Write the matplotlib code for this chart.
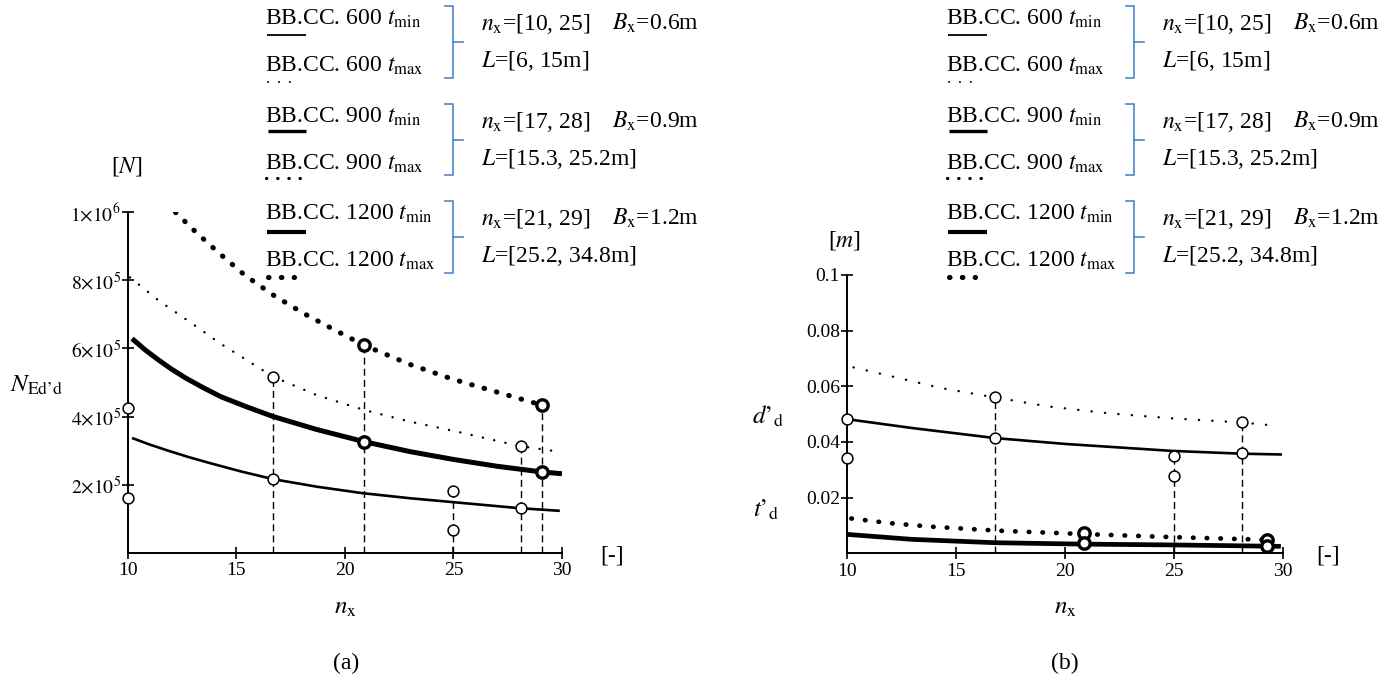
import numpy as np
import matplotlib
matplotlib.use('Agg')
import matplotlib.pyplot as plt
from matplotlib.lines import Line2D

plt.rcParams['font.family'] = 'Liberation Serif'
plt.rcParams['mathtext.fontset'] = 'stix'

W, H = 1395, 682   # output size in pixels

# ---------------- panel (a) : N_Ed,d [N] versus n_x ----------------
a_x_600_tmin = [10.2, 11.0, 11.8, 12.8, 13.8, 15.2, 16.7, 18.7, 20.8, 23.0, 24.9, 28.0, 29.9]
a_y_600_tmin = [337e3, 318e3, 301e3, 281e3, 263e3, 239e3, 216e3, 194e3, 175e3, 160e3, 149e3, 131e3, 123e3]

a_x_600_tmax = [10.1, 11.4, 12.9, 14.3, 16.7, 18.7, 20.9, 23.0, 25.0, 28.0, 29.6]
a_y_600_tmax = [809e3, 742e3, 676e3, 613e3, 517e3, 463e3, 419e3, 385e3, 358e3, 314e3, 299e3]

a_x_1200_tmin = [10.2, 10.8, 11.4, 12.0, 12.7, 13.5, 14.3, 15.5, 16.7, 18.7, 20.9, 23.0, 25.0, 27.0, 29.1, 30.0]
a_y_1200_tmin = [629e3, 596e3, 567e3, 540e3, 512e3, 484e3, 458e3, 428e3, 400e3, 362e3, 326e3, 297e3, 274e3, 254e3, 237e3, 232e3]

a_x_1200_tmax = [12.2, 13.2, 14.3, 15.4, 16.7, 18.1, 19.6, 20.9, 23.0, 25.0, 27.0, 29.1, 29.6]
a_y_1200_tmax = [1000e3, 938e3, 875e3, 815e3, 757e3, 703e3, 652e3, 609e3, 553e3, 509e3, 472e3, 433e3, 428e3]

a_open_x = [10, 10, 16.7, 16.7, 25.0, 25.0, 28.1, 28.1]
a_open_y = [425e3, 161e3, 517e3, 216e3, 182e3, 68e3, 314e3, 131e3]
a_bold_x = [20.9, 20.9, 29.1, 29.1]
a_bold_y = [609e3, 326e3, 433e3, 237e3]
a_drop_x = [16.7, 20.9, 25.0, 28.1, 29.1]
a_drop_top = [517e3, 609e3, 182e3, 314e3, 433e3]

a_yticks = [2e5, 4e5, 6e5, 8e5, 1e6]
a_ylabels = [r'$2{\times}10^{5}$', r'$4{\times}10^{5}$', r'$6{\times}10^{5}$',
             r'$8{\times}10^{5}$', r'$1{\times}10^{6}$']

# ---------------- panel (b) : d'_d, t'_d [m] versus n_x ----------------
b_x_d_tmax = [10.3, 12.2, 14.3, 16.8, 19.2, 22.0, 24.9, 28.1, 29.6]
b_y_d_tmax = [0.0668, 0.0633, 0.0594, 0.0560, 0.0528, 0.0503, 0.0485, 0.0470, 0.0459]

b_x_d_tmin = [10.0, 13.0, 16.8, 20.0, 24.9, 28.1, 29.95]
b_y_d_tmin = [0.0482, 0.0450, 0.0414, 0.0393, 0.0368, 0.0358, 0.0355]

b_x_t_tmax = [10.2, 12.0, 14.0, 17.0, 20.9, 25.0, 29.5]
b_y_t_tmax = [0.0125, 0.0108, 0.0095, 0.0081, 0.0069, 0.0058, 0.0048]

b_x_t_tmin = [10.0, 13.0, 16.8, 20.8, 25.0, 29.9]
b_y_t_tmin = [0.0068, 0.0050, 0.0038, 0.0033, 0.0030, 0.0025]

b_open_x = [10, 10, 16.8, 16.8, 25.0, 25.0, 28.1, 28.1]
b_open_y = [0.0482, 0.0342, 0.0560, 0.0414, 0.0350, 0.0276, 0.0470, 0.0360]
b_bold_x = [20.85, 20.85, 29.25, 29.25]
b_bold_y = [0.0072, 0.0038, 0.0048, 0.0027]
b_drop_x = [16.8, 25.0, 28.1]
b_drop_top = [0.0560, 0.0350, 0.0470]

b_yticks = [0.02, 0.04, 0.06, 0.08, 0.1]
b_ylabels = ['0.02', '0.04', '0.06', '0.08', '0.1']

xticks = [10, 15, 20, 25, 30]

# legend block text
leg_names = [r'BB.CC. 600 $t_{\mathrm{min}}$', r'BB.CC. 600 $t_{\mathrm{max}}$',
             r'BB.CC. 900 $t_{\mathrm{min}}$', r'BB.CC. 900 $t_{\mathrm{max}}$',
             r'BB.CC. 1200 $t_{\mathrm{min}}$', r'BB.CC. 1200 $t_{\mathrm{max}}$']
info_nx = [r'$n_{\mathrm{x}}$=[10, 25]', r'$n_{\mathrm{x}}$=[17, 28]', r'$n_{\mathrm{x}}$=[21, 29]']
info_bx = [r'$B_{\mathrm{x}}$=0.6m', r'$B_{\mathrm{x}}$=0.9m', r'$B_{\mathrm{x}}$=1.2m']
info_L = [r'$L$=[6, 15m]', r'$L$=[15.3, 25.2m]', r'$L$=[25.2, 34.8m]']

# line styles (thin solid, fine dots, thick solid, heavy dots)
thin_solid = dict(color='black', lw=1.9, solid_capstyle='butt')
thick_solid = dict(color='black', lw=3.6, solid_capstyle='butt')
fine_dots = dict(color='black', lw=1.7, linestyle=(0, (0.1, 4.8)), dash_capstyle='round')
heavy_dots = dict(color='black', lw=3.7, linestyle=(0, (0.1, 2.4)), dash_capstyle='round')

BLUE = '#4a86c8'


def fx(x):
    return x / W


def fy(y):
    return 1 - y / H


def setup(ax, ylim, yticks, ylabels):
    ax.set_xlim(10, 30)
    ax.set_ylim(*ylim)
    ax.patch.set_alpha(0)
    for s in ['top', 'right']:
        ax.spines[s].set_visible(False)
    for s in ['left', 'bottom']:
        ax.spines[s].set_linewidth(1.4)
    ax.set_xticks(xticks)
    ax.set_yticks(yticks, ylabels)
    ax.tick_params(direction='inout', length=8, width=1.2, labelsize=14)
    ax.tick_params(axis='y', pad=1)
    ax.tick_params(axis='x', pad=3)


def points(ax, ox, oy, bx, by, dx, dtop):
    ax.vlines(dx, 0, dtop, colors='black', lw=1.0, linestyles=(0, (5, 3)), zorder=2)
    ax.plot(ox, oy, 'o', ms=7.8, mfc='white', mec='black', mew=1.1, zorder=5, clip_on=False)
    ax.plot(bx, by, 'o', ms=8.2, mfc='white', mec='black', mew=2.4, zorder=6, clip_on=False)


def legend_block(x0):
    # line samples under the names
    samples = [(35, dict(thin_solid, lw=1.3), 267, 306), (82, dict(fine_dots, lw=1.4, linestyle=(0, (0.1, 5.5))), 268, 298),
               (131, dict(thick_solid, lw=2.4), 268, 306),
               (178, dict(fine_dots, lw=2.3, linestyle=(0, (0.1, 3.4))), 266, 301),
               (232, dict(thick_solid, lw=3.0), 267, 306), (277, heavy_dots, 268, 294)]
    bases = [25, 72, 123, 170, 220, 267]
    for name, yb, (ys, st, xa, xb) in zip(leg_names, bases, samples):
        fig.text(fx(x0), fy(yb), name, fontsize=17, va='baseline', ha='left')
        fig.add_artist(Line2D([fx(x0 + xa - 265), fx(x0 + xb - 265)], [fy(ys), fy(ys)],
                              transform=fig.transFigure, **st))
    # brackets and the information to their right
    for i, (top, bot) in enumerate([(6, 78), (104, 175), (201, 273)]):
        xb = x0 + 453 - 265
        mid = (top + bot) / 2
        fig.add_artist(Line2D([fx(xb - 8), fx(xb), fx(xb), fx(xb - 8)],
                              [fy(top), fy(top), fy(bot), fy(bot)],
                              transform=fig.transFigure, color=BLUE, lw=1.2))
        fig.add_artist(Line2D([fx(xb), fx(xb + 10)], [fy(mid), fy(mid)],
                              transform=fig.transFigure, color=BLUE, lw=1.2))
        fig.text(fx(x0 + 216), fy(top + 24), info_nx[i], fontsize=17, va='baseline')
        fig.text(fx(x0 + 347), fy(top + 24), info_bx[i], fontsize=17, va='baseline')
        fig.text(fx(x0 + 216), fy(top + 61), info_L[i], fontsize=17, va='baseline')


fig = plt.figure(figsize=(W / 100, H / 100), dpi=100)

# ---- panel (a)
ax1 = fig.add_axes([fx(127.7), fy(552.7), (562 - 127.7) / W, (552.7 - 212.3) / H])
setup(ax1, (0, 1e6), a_yticks, a_ylabels)
ax1.plot(a_x_600_tmin, a_y_600_tmin, **thin_solid)
ax1.plot(a_x_600_tmax, a_y_600_tmax, **fine_dots)
ax1.plot(a_x_1200_tmin, a_y_1200_tmin, **thick_solid)
ax1.plot(a_x_1200_tmax, a_y_1200_tmax, **heavy_dots)
points(ax1, a_open_x, a_open_y, a_bold_x, a_bold_y, a_drop_x, a_drop_top)

# ---- panel (b)
ax2 = fig.add_axes([fx(847), fy(553.3), (1283 - 847) / W, (553.3 - 275) / H])
setup(ax2, (0, 0.1), b_yticks, b_ylabels)
ax2.plot(b_x_d_tmin, b_y_d_tmin, **thin_solid)
ax2.plot(b_x_d_tmax, b_y_d_tmax, **dict(fine_dots, linestyle=(0, (0.1, 5.6))))
ax2.plot(b_x_t_tmin, b_y_t_tmin, **dict(thick_solid, lw=3.4))
ax2.plot(b_x_t_tmax, b_y_t_tmax, **dict(heavy_dots, lw=3.4, linestyle=(0, (0.1, 2.8))))
points(ax2, b_open_x, b_open_y, b_bold_x, b_bold_y, b_drop_x, b_drop_top)

# ---- axis annotations
fig.text(fx(127), fy(166), '[$N$]', fontsize=17, ha='center', va='center')
fig.text(fx(37), fy(385), r'$N_{\mathrm{Ed’d}}$', fontsize=18, ha='center', va='center')
fig.text(fx(612), fy(556), '[-]', fontsize=17, ha='center', va='center')
fig.text(fx(345), fy(608), r'$n_{\mathrm{x}}$', fontsize=18, ha='center', va='center')
fig.text(fx(346), fy(663), '(a)', fontsize=17, ha='center', va='center')

fig.text(fx(845), fy(240), '[$m$]', fontsize=17, ha='center', va='center')
fig.text(fx(768), fy(416), r'$d’_{\mathrm{d}}$', fontsize=18, ha='center', va='center')
fig.text(fx(766), fy(510), r'$t’_{\mathrm{d}}$', fontsize=18, ha='center', va='center')
fig.text(fx(1328), fy(556), '[-]', fontsize=17, ha='center', va='center')
fig.text(fx(1065), fy(608), r'$n_{\mathrm{x}}$', fontsize=18, ha='center', va='center')
fig.text(fx(1065), fy(663), '(b)', fontsize=17, ha='center', va='center')

legend_block(265)
legend_block(946)

plt.savefig('out.png', dpi=100)
plt.close('all')
